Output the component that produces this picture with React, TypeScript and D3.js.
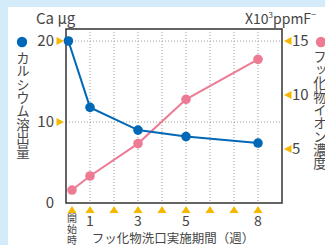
import { useEffect, useRef } from 'react';
import * as d3 from 'd3';

// weeks at which the dots sit (start point read as a small offset)
const caWeeks = [0.1, 1, 3, 5, 8];
const caValues = [20, 11.8, 9.0, 8.2, 7.4];
const fWeeks = [0.25, 1, 3, 5, 8];
const fValues = [1.2, 2.5, 5.5, 9.6, 13.3];

const tickWeeks = [0.25, 1, 2, 3, 4, 5, 6, 7, 8];
const tickLabels = ['開始時', '1', '', '3', '', '5', '', '', '8'];
const gridWeeks = [1, 2, 3, 4, 5, 6, 7, 8];
const leftTicks = [20, 10];
const leftLabels = [20, 10, 0];
const rightTicks = [15, 10, 5];

const W = 325;
const H = 245;
const BLUE = '#0068b7';
const PINK = '#ee7b94';
const GOLD = '#f5b800';
const TEXT = '#454545';
const FONT = '"Noto Sans CJK JP", "Noto Sans", sans-serif';

export default function App() {
  const svgRef = useRef<SVGSVGElement>(null);

  useEffect(() => {
    if (!svgRef.current) return;
    const svg = d3.select(svgRef.current);
    svg.selectAll('*').remove();

    const frame = { top: 29, bottom: 203, left: 66, right: 282 };
    const innerW = frame.right - frame.left;

    // background
    svg.append('rect').attr('width', W).attr('height', H).attr('fill', '#d4ebf9');
    svg.append('rect').attr('x', 8).attr('y', 7).attr('width', W - 8).attr('height', H - 7).attr('fill', '#ffffff');

    const x = d3.scaleLinear().domain([0, 8]).range([0, 192]);
    const yL = d3.scaleLinear().domain([0, 20]).range([frame.bottom, 41]);
    const yR = d3.scaleLinear().domain([0, 15]).range([frame.bottom, 41]);

    const g = svg.append('g').attr('transform', `translate(${frame.left},0)`);

    // grid
    g.selectAll('.gv')
      .data(gridWeeks)
      .enter()
      .append('line')
      .attr('x1', (d) => x(d))
      .attr('x2', (d) => x(d))
      .attr('y1', frame.top)
      .attr('y2', frame.bottom)
      .attr('stroke', '#9a9a9a')
      .attr('stroke-width', 1)
      .attr('stroke-dasharray', '1,2');
    g.selectAll('.gh')
      .data(leftTicks)
      .enter()
      .append('line')
      .attr('x1', 0)
      .attr('x2', innerW)
      .attr('y1', (d) => yL(d))
      .attr('y2', (d) => yL(d))
      .attr('stroke', '#9a9a9a')
      .attr('stroke-width', 1)
      .attr('stroke-dasharray', '1,2');

    // frame
    g.append('rect')
      .attr('x', 0)
      .attr('y', frame.top)
      .attr('width', innerW)
      .attr('height', frame.bottom - frame.top)
      .attr('fill', 'none')
      .attr('stroke', '#333')
      .attr('stroke-width', 1.5);

    // series
    const drawSeries = (weeks: number[], values: number[], y: d3.ScaleLinear<number, number>, color: string) => {
      const pts = weeks.map((w, i) => [x(w), y(values[i])] as [number, number]);
      g.append('path')
        .datum(pts)
        .attr('fill', 'none')
        .attr('stroke', color)
        .attr('stroke-width', 2)
        .attr('d', d3.line());
      g.selectAll(null)
        .data(pts)
        .enter()
        .append('circle')
        .attr('cx', (d) => d[0])
        .attr('cy', (d) => d[1])
        .attr('r', 4.8)
        .attr('fill', color);
    };
    drawSeries(fWeeks, fValues, yR, PINK);
    drawSeries(caWeeks, caValues, yL, BLUE);

    // bottom triangles + labels
    const base = frame.bottom;
    g.selectAll('.tb')
      .data(tickWeeks)
      .enter()
      .append('path')
      .attr('d', (d) => `M${x(d) - 4.5},${base + 10} L${x(d) + 4.5},${base + 10} L${x(d)},${base + 3} Z`)
      .attr('fill', GOLD);
    tickWeeks.forEach((w, i) => {
      const lab = tickLabels[i];
      if (!lab) return;
      if (lab.length > 1) {
        lab.split('').forEach((ch, j) => {
          g.append('text')
            .attr('x', x(w))
            .attr('y', base + 19 + j * 11)
            .attr('text-anchor', 'middle')
            .attr('font-size', 10)
            .attr('font-family', FONT)
            .attr('fill', TEXT)
            .text(ch);
        });
      } else {
        g.append('text')
          .attr('x', x(w))
          .attr('y', base + 23)
          .attr('text-anchor', 'middle')
          .attr('font-size', 14)
          .attr('font-family', FONT)
          .attr('fill', TEXT)
          .text(lab);
      }
    });

    // left axis
    g.selectAll('.tl')
      .data(leftTicks)
      .enter()
      .append('path')
      .attr('d', (d) => `M-9.5,${yL(d) - 4} L-9.5,${yL(d) + 4} L-2,${yL(d)} Z`)
      .attr('fill', GOLD);
    g.selectAll('.ll')
      .data(leftLabels)
      .enter()
      .append('text')
      .attr('x', -12)
      .attr('y', (d) => yL(d))
      .attr('dy', '0.36em')
      .attr('text-anchor', 'end')
      .attr('font-size', 15)
      .attr('font-family', FONT)
      .attr('fill', TEXT)
      .text((d) => d);

    // right axis
    g.selectAll('.tr')
      .data(rightTicks)
      .enter()
      .append('path')
      .attr('d', (d) => `M${innerW + 9.5},${yR(d) - 4} L${innerW + 9.5},${yR(d) + 4} L${innerW + 2},${yR(d)} Z`)
      .attr('fill', GOLD);
    g.selectAll('.rl')
      .data(rightTicks)
      .enter()
      .append('text')
      .attr('x', innerW + 10)
      .attr('y', (d) => yR(d))
      .attr('dy', '0.36em')
      .attr('font-size', 15)
      .attr('font-family', FONT)
      .attr('fill', TEXT)
      .text((d) => d);

    // titles
    svg.append('text')
      .attr('x', 36)
      .attr('y', 24)
      .attr('font-size', 15)
      .attr('font-family', FONT)
      .attr('fill', TEXT)
      .text('Ca μg');
    const rt = svg.append('text')
      .attr('x', 245)
      .attr('y', 24)
      .attr('font-size', 14)
      .attr('font-family', FONT)
      .attr('fill', TEXT);
    rt.append('tspan').text('X10');
    rt.append('tspan').attr('font-size', 8).attr('dy', -6).text('3');
    rt.append('tspan').attr('dy', 6).text('ppmF');
    rt.append('tspan').attr('font-size', 9).attr('dy', -6).text('−');

    svg.append('text')
      .attr('x', 173)
      .attr('y', 243)
      .attr('text-anchor', 'middle')
      .attr('font-size', 12.5)
      .attr('font-family', FONT)
      .attr('fill', TEXT)
      .text('フッ化物洗口実施期間（週）');

    // side legends
    svg.append('circle').attr('cx', 22).attr('cy', 42).attr('r', 5.2).attr('fill', BLUE);
    svg.append('text')
      .attr('x', 23)
      .attr('y', 51)
      .attr('font-size', 13.4)
      .attr('font-family', FONT)
      .attr('fill', TEXT)
      .style('writing-mode', 'vertical-rl')
      .text('カルシウム溶出量');
    svg.append('circle').attr('cx', 321).attr('cy', 42).attr('r', 5.2).attr('fill', PINK);
    svg.append('text')
      .attr('x', 320)
      .attr('y', 50)
      .attr('font-size', 13.3)
      .attr('font-family', FONT)
      .attr('fill', TEXT)
      .style('writing-mode', 'vertical-rl')
      .text('フッ化物イオン濃度');
  }, []);

  return (
    <div style={{ position: 'absolute', left: 0, top: 0 }}>
      <svg ref={svgRef} width={W} height={H} style={{ display: 'block' }} />
    </div>
  );
}
